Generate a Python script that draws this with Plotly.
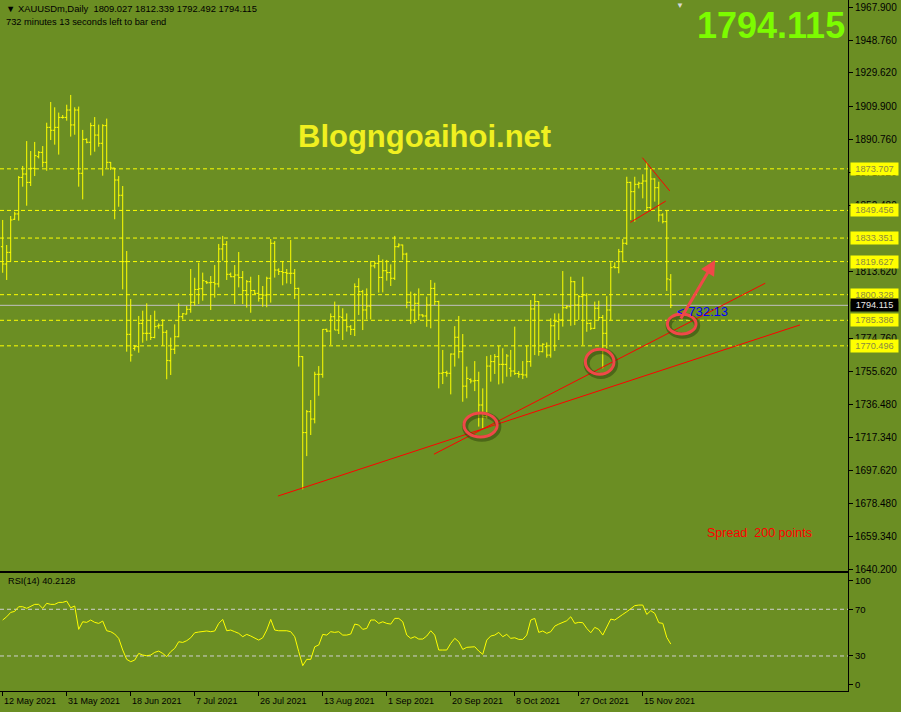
import plotly.graph_objects as go

# ---- data (XAUUSDm, daily bars, broker with Sunday bars) ----
opens = [1828.3, 1818.2, 1825.0, 1844.3, 1847.4, 1868.7, 1870.7, 1865.8, 1874.0, 1880.8,
         1883.3, 1877.5, 1897.9, 1896.2, 1897.9, 1903.7, 1903.7, 1908.0, 1899.3, 1908.0,
         1871.1, 1890.9, 1889.2, 1898.9, 1893.4, 1888.6, 1898.9, 1877.5, 1874.2, 1867.2,
         1858.3, 1819.6, 1777.2, 1769.0, 1770.0, 1783.6, 1777.8, 1777.8, 1775.4, 1782.1,
         1782.5, 1778.4, 1761.8, 1768.5, 1775.8, 1787.5, 1789.0, 1791.8, 1795.9, 1803.4,
         1803.8, 1807.9, 1807.3, 1807.5, 1806.6, 1827.0, 1829.7, 1812.2, 1810.8, 1811.8,
         1810.3, 1802.7, 1807.9, 1802.7, 1801.1, 1798.2, 1800.1, 1809.9, 1830.3, 1814.7,
         1813.8, 1813.2, 1812.8, 1812.8, 1804.0, 1764.2, 1719.9, 1732.1, 1727.8, 1753.9,
         1753.9, 1780.1, 1779.1, 1787.5, 1779.7, 1787.1, 1785.5, 1781.6, 1780.1, 1805.0,
         1802.1, 1791.4, 1793.7, 1817.1, 1818.6, 1810.4, 1814.3, 1813.2, 1809.9, 1828.3,
         1829.3, 1824.0, 1795.9, 1791.4, 1795.3, 1788.5, 1787.9, 1794.3, 1804.0, 1796.3,
         1754.5, 1754.9, 1754.5, 1765.7, 1775.5, 1767.1, 1747.0, 1750.9, 1750.0, 1750.2,
         1736.0, 1729.2, 1758.7, 1761.3, 1764.2, 1759.7, 1759.7, 1757.4, 1755.8, 1754.4,
         1753.9, 1753.5, 1761.3, 1792.0, 1796.3, 1767.1, 1770.0, 1765.1, 1782.2, 1784.6,
         1785.6, 1792.7, 1793.3, 1807.9, 1794.3, 1799.2, 1800.1, 1783.6, 1780.7, 1792.4,
         1787.0, 1777.8, 1791.4, 1816.6, 1816.1, 1825.4, 1830.3, 1865.8, 1860.4, 1864.7,
         1865.3, 1866.6, 1851.1, 1867.8, 1862.7, 1846.8, 1842.9, 1809.027]
highs = [1843.9, 1829.3, 1846.2, 1848.7, 1869.5, 1875.4, 1889.9, 1884.1, 1889.4, 1884.1,
         1887.0, 1900.6, 1912.7, 1909.6, 1906.5, 1905.1, 1911.1, 1916.8, 1909.6, 1910.0,
         1896.4, 1891.5, 1900.6, 1903.9, 1899.5, 1899.7, 1903.0, 1877.7, 1874.2, 1869.5,
         1863.7, 1825.8, 1797.8, 1771.0, 1787.9, 1791.0, 1795.3, 1788.5, 1791.0, 1783.6,
         1786.0, 1779.7, 1775.3, 1783.0, 1795.3, 1789.6, 1793.7, 1815.3, 1810.2, 1819.0,
         1813.2, 1808.5, 1811.2, 1817.6, 1829.9, 1834.6, 1831.6, 1813.2, 1817.6, 1825.2,
         1814.1, 1808.9, 1810.8, 1803.1, 1811.8, 1805.4, 1810.8, 1832.8, 1831.6, 1815.7,
         1820.0, 1815.3, 1832.2, 1815.3, 1804.4, 1764.5, 1733.1, 1738.9, 1755.4, 1758.7,
         1780.3, 1780.5, 1789.4, 1796.3, 1794.3, 1792.4, 1789.4, 1782.6, 1806.9, 1809.9,
         1803.1, 1804.0, 1820.0, 1819.6, 1823.5, 1820.9, 1820.6, 1818.0, 1834.6, 1830.3,
         1829.5, 1824.8, 1802.1, 1801.1, 1804.0, 1788.9, 1799.2, 1808.9, 1807.3, 1796.8,
         1768.1, 1756.0, 1766.1, 1782.0, 1787.9, 1777.4, 1758.4, 1751.5, 1761.6, 1755.4,
         1745.7, 1764.5, 1765.2, 1765.7, 1770.4, 1769.1, 1765.7, 1768.1, 1781.7, 1755.8,
         1761.6, 1770.6, 1797.2, 1800.5, 1796.6, 1772.0, 1772.5, 1786.5, 1789.4, 1789.4,
         1814.1, 1794.3, 1810.8, 1808.3, 1800.1, 1810.8, 1801.1, 1784.2, 1796.3, 1796.8,
         1788.5, 1799.5, 1819.2, 1819.2, 1827.0, 1832.8, 1869.1, 1866.2, 1869.1, 1866.2,
         1870.5, 1877.5, 1873.6, 1868.2, 1866.2, 1847.8, 1849.7, 1812.339]
lows = [1813.1, 1808.9, 1819.6, 1843.9, 1843.5, 1863.3, 1852.2, 1863.7, 1869.5, 1879.8,
        1874.6, 1872.6, 1890.5, 1887.8, 1882.0, 1903.0, 1901.8, 1892.5, 1893.6, 1863.3,
        1855.9, 1888.6, 1881.6, 1883.7, 1886.6, 1869.7, 1874.2, 1873.0, 1844.3, 1851.6,
        1803.4, 1767.1, 1761.3, 1767.7, 1766.5, 1772.3, 1773.5, 1773.9, 1774.9, 1780.5,
        1770.6, 1751.0, 1753.5, 1765.7, 1775.5, 1785.9, 1788.8, 1789.8, 1793.9, 1794.9,
        1796.8, 1806.6, 1791.4, 1798.6, 1804.6, 1820.2, 1808.9, 1810.5, 1794.9, 1804.6,
        1794.9, 1792.8, 1789.8, 1800.7, 1796.3, 1793.3, 1793.0, 1795.7, 1810.3, 1811.8,
        1805.8, 1806.9, 1806.6, 1797.8, 1758.4, 1686.8, 1706.2, 1718.5, 1725.3, 1741.4,
        1751.9, 1778.5, 1771.0, 1779.7, 1777.4, 1773.9, 1778.8, 1776.8, 1776.2, 1788.5,
        1779.7, 1785.9, 1785.9, 1815.7, 1801.5, 1801.7, 1808.5, 1805.4, 1808.9, 1827.9,
        1820.6, 1792.4, 1783.2, 1784.0, 1785.5, 1787.1, 1781.6, 1780.7, 1794.3, 1745.7,
        1748.2, 1752.5, 1742.2, 1758.4, 1763.2, 1737.9, 1739.9, 1748.6, 1744.1, 1723.4,
        1722.4, 1728.2, 1749.6, 1754.1, 1748.0, 1748.6, 1752.5, 1752.5, 1753.5, 1751.9,
        1751.1, 1751.9, 1758.3, 1765.1, 1764.7, 1766.7, 1763.6, 1763.6, 1767.5, 1773.9,
        1781.7, 1792.0, 1782.2, 1782.6, 1785.6, 1771.0, 1778.7, 1779.7, 1780.3, 1785.6,
        1757.4, 1769.0, 1785.6, 1815.7, 1812.8, 1819.2, 1829.3, 1843.9, 1842.9, 1862.3,
        1856.5, 1849.7, 1849.7, 1854.6, 1842.9, 1841.9, 1802.5, 1792.492]
closes = [1818.2, 1825.0, 1843.9, 1847.4, 1868.7, 1870.7, 1865.8, 1874.0, 1881.4, 1883.3,
          1877.5, 1897.9, 1896.2, 1897.9, 1903.7, 1903.7, 1908.0, 1899.3, 1908.0, 1871.1,
          1890.9, 1889.2, 1898.9, 1893.4, 1888.6, 1898.9, 1877.5, 1874.2, 1867.2, 1858.3,
          1819.6, 1777.2, 1765.1, 1770.0, 1783.6, 1777.8, 1777.8, 1775.4, 1781.7, 1782.5,
          1778.4, 1762.0, 1768.5, 1775.8, 1787.5, 1789.2, 1791.8, 1795.9, 1803.4, 1803.8,
          1808.5, 1807.3, 1807.5, 1806.6, 1827.0, 1829.7, 1812.2, 1810.8, 1811.8, 1810.3,
          1802.7, 1807.9, 1802.7, 1801.1, 1798.2, 1800.1, 1809.9, 1830.3, 1814.7, 1813.8,
          1813.2, 1812.8, 1812.8, 1804.0, 1764.2, 1719.9, 1732.1, 1727.8, 1753.9, 1753.9,
          1780.1, 1779.1, 1787.5, 1779.7, 1787.5, 1785.5, 1781.6, 1780.1, 1805.0, 1802.1,
          1791.4, 1793.7, 1817.1, 1818.6, 1810.4, 1814.3, 1813.2, 1809.9, 1828.3, 1829.3,
          1824.0, 1795.9, 1791.4, 1795.3, 1788.5, 1787.9, 1794.3, 1804.0, 1796.3, 1754.5,
          1754.9, 1754.5, 1765.7, 1775.5, 1767.1, 1747.0, 1751.5, 1750.0, 1750.2, 1736.0,
          1729.2, 1758.7, 1761.3, 1764.2, 1759.7, 1759.7, 1764.6, 1755.8, 1754.4, 1753.9,
          1753.5, 1761.3, 1792.0, 1796.3, 1767.1, 1771.4, 1765.1, 1782.2, 1784.6, 1785.6,
          1792.7, 1793.3, 1807.9, 1794.3, 1799.2, 1800.1, 1783.6, 1780.7, 1792.4, 1787.0,
          1777.8, 1791.4, 1816.1, 1816.1, 1825.4, 1830.3, 1865.8, 1860.4, 1864.7, 1865.3,
          1866.6, 1851.1, 1867.8, 1862.7, 1846.8, 1842.9, 1809.5, 1794.115]

rsi = [60.8, 63.6, 67.3, 68.2, 72.2, 72.2, 70.8, 72.8, 74.2, 74.2,
       70.8, 75.1, 74.2, 74.2, 75.9, 75.9, 77.0, 71.3, 72.8, 52.8,
       59.3, 58.8, 60.8, 58.8, 57.9, 59.9, 51.6, 50.8, 48.8, 45.1,
       35.1, 27.1, 25.1, 26.5, 32.2, 30.8, 30.2, 30.8, 33.1, 34.2,
       32.2, 29.4, 33.7, 36.5, 42.2, 41.6, 43.1, 45.6, 49.9, 50.5,
       50.8, 51.4, 50.8, 51.4, 57.9, 61.3, 51.6, 52.2, 50.8, 49.4,
       46.5, 48.5, 47.1, 45.1, 43.6, 45.6, 52.2, 61.3, 52.2, 51.6,
       51.6, 51.6, 50.8, 46.5, 33.7, 21.7, 27.1, 27.1, 37.9, 39.4,
       48.5, 47.9, 50.8, 50.2, 50.8, 47.9, 47.9, 48.8, 57.3, 56.5,
       52.8, 53.6, 60.8, 60.8, 57.9, 59.3, 57.9, 57.3, 62.2, 62.2,
       59.3, 47.9, 45.1, 46.5, 44.5, 44.5, 47.1, 51.6, 47.9, 35.1,
       35.1, 35.1, 40.8, 45.1, 42.2, 35.6, 37.4, 37.9, 37.9, 34.2,
       31.4, 43.6, 47.1, 47.9, 50.2, 46.5, 48.5, 45.1, 45.6, 44.2,
       44.2, 47.9, 60.8, 62.2, 50.2, 51.4, 49.4, 50.8, 55.6, 57.3,
       58.8, 60.2, 63.6, 57.9, 58.8, 58.5, 53.6, 49.9, 54.5, 52.8,
       47.9, 54.5, 61.6, 60.8, 63.6, 65.6, 67.9, 70.8, 73.1, 73.6,
       73.6, 65.6, 68.8, 66.5, 58.5, 57.9, 45.9, 40.2]

date_ticks = [0, 16, 32, 48, 64, 80, 96, 112, 128, 144, 160]
date_labels = ["12 May 2021", "31 May 2021", "18 Jun 2021", "7 Jul 2021", "26 Jul 2021",
               "13 Aug 2021", "1 Sep 2021", "20 Sep 2021", "8 Oct 2021", "27 Oct 2021",
               "15 Nov 2021"]

price_ticks = [1967.90, 1948.76, 1929.62, 1909.90, 1890.76, 1871.62, 1852.48,
               1813.62, 1774.76, 1755.62, 1736.48, 1717.34, 1697.62, 1678.48,
               1659.34, 1640.20]
levels = [1873.707, 1849.456, 1833.351, 1819.627, 1800.328, 1785.386, 1770.496]
bid = 1794.115
rsi_name = "RSI(14) 40.2128"
rsi_levels = [30, 70]

# hand drawn objects on the chart: (bar index, price)
trend_lines = [
    ((68.8, 1682.9), (199.3, 1782.7)),
    ((107.8, 1707.3), (190.6, 1807.0)),
    ((159.9, 1880.2), (166.75, 1860.8)),
    ((156.9, 1842.5), (165.75, 1854.9)),
]
circles = [  # x0, x1, y0, y1
    (115.3, 123.6, 1717.3, 1731.3),
    (145.65, 152.8, 1753.9, 1768.5),
    (166.15, 173.3, 1777.4, 1789.1),
]
arrow_from = (169.3, 1785.6)
arrow_to = (178.1, 1820.6)

# ---- style ----
BG = "#6B8E23"
BAR = "#FFFF00"
RED = "#F04848"
FONT = "Liberation Sans, Arial, sans-serif"
W, H = 901, 712
PLOT_W, PLOT_H = 848, 691


def px(x):
    return x / PLOT_W


def py(y):
    return (PLOT_H - y) / PLOT_H


x = list(range(len(closes)))

fig = go.Figure()
fig.add_trace(go.Ohlc(
    x=x, open=opens, high=highs, low=lows, close=closes,
    increasing=dict(line=dict(color=BAR, width=1)),
    decreasing=dict(line=dict(color=BAR, width=1)),
    tickwidth=0.45, hoverinfo="none", xaxis="x", yaxis="y",
))
fig.add_trace(go.Scatter(
    x=x, y=rsi, mode="lines", line=dict(color=BAR, width=1),
    hoverinfo="skip", xaxis="x2", yaxis="y2",
))

shapes = []
for lvl in levels:
    shapes.append(dict(type="line", xref="paper", yref="y", x0=0, x1=1, y0=lvl, y1=lvl,
                       line=dict(color=BAR, width=1, dash="4px,3px"), layer="below"))
shapes.append(dict(type="line", xref="paper", yref="y", x0=0, x1=1, y0=bid, y1=bid,
                   line=dict(color="#C0C0C0", width=1), layer="below"))
for lvl in rsi_levels:
    shapes.append(dict(type="line", xref="paper", yref="y2", x0=0, x1=1, y0=lvl, y1=lvl,
                       line=dict(color="#D0D0D0", width=1, dash="4px,3px"), layer="below"))
for (a, b) in trend_lines:
    shapes.append(dict(type="line", xref="x", yref="y", x0=a[0], y0=a[1], x1=b[0], y1=b[1],
                       line=dict(color="#FF0000", width=1)))
for (x0, x1, y0, y1) in circles:
    # soft shadow then the ring
    shapes.append(dict(type="circle", xref="x", yref="y", x0=x0 + 0.3, x1=x1 + 0.3,
                       y0=y0 - 1.0, y1=y1 - 1.0,
                       line=dict(color="rgba(40,55,10,0.45)", width=6)))
    shapes.append(dict(type="circle", xref="x", yref="y", x0=x0, x1=x1, y0=y0, y1=y1,
                       line=dict(color=RED, width=3)))

annotations = [
    dict(xref="paper", yref="paper", x=px(4), y=py(9), xanchor="left", yanchor="middle",
         text=f"▼ XAUUSDm,Daily  {opens[-1]:.3f} {highs[-1]:.3f} {lows[-1]:.3f} {closes[-1]:.3f}",
         showarrow=False, font=dict(size=9.4, color="black")),
    dict(xref="paper", yref="paper", x=px(4), y=py(22), xanchor="left", yanchor="middle",
         text="732 minutes 13 seconds left to bar end",
         showarrow=False, font=dict(size=9.3, color="black")),
    dict(xref="paper", yref="paper", x=px(847), y=py(25), xanchor="right", yanchor="middle",
         text=f"<b>{bid:.3f}</b>", showarrow=False,
         font=dict(size=36, color="#7CFC00", family=FONT)),
    dict(xref="paper", yref="paper", x=px(680), y=py(5), xanchor="center", yanchor="middle",
         text="▼", showarrow=False, font=dict(size=8, color="#D8D8D8")),
    dict(xref="paper", yref="paper", x=px(424), y=py(137), xanchor="center", yanchor="middle",
         text="<b>Blogngoaihoi.net</b>", showarrow=False,
         font=dict(size=31, color="#F0F020", family=FONT)),
    dict(xref="paper", yref="paper", x=px(705), y=py(533), xanchor="left", yanchor="middle",
         text="Spread  200 points", showarrow=False, font=dict(size=12.5, color="#FF0000")),
    dict(xref="x", yref="y", x=168.1, y=1790.8, xanchor="left", yanchor="middle",
         text="&lt; 732:13", showarrow=False, font=dict(size=13, color="#0000FF")),
    dict(xref="paper", yref="paper", x=px(6), y=py(581), xanchor="left", yanchor="middle",
         text=rsi_name, showarrow=False, font=dict(size=9.2, color="black")),
    dict(xref="x", yref="y", x=arrow_to[0], y=arrow_to[1], ax=arrow_from[0], ay=arrow_from[1],
         axref="x", ayref="y", text="", showarrow=True, arrowhead=2, arrowsize=1,
         arrowwidth=3, arrowcolor=RED, standoff=0, startstandoff=0),
]
for lvl in levels:
    annotations.append(dict(xref="paper", yref="y", x=px(849.5), y=lvl, xanchor="left",
                            yanchor="middle", text=f"{lvl:.3f}", showarrow=False,
                            bgcolor="#FFFF00", borderpad=1, width=45, height=10,
                            font=dict(size=9.2, color="#8A8A40")))
annotations.append(dict(xref="paper", yref="y", x=px(849.5), y=bid, xanchor="left",
                        yanchor="middle", text=f"{bid:.3f}", showarrow=False,
                        bgcolor="#000000", borderpad=1, width=45, height=10,
                        font=dict(size=9.2, color="#E8E8E8")))
for idx, lab in zip(date_ticks, date_labels):
    annotations.append(dict(xref="x2", yref="paper", x=idx, y=py(701), xanchor="left",
                            yanchor="middle", xshift=-1, text=lab, showarrow=False,
                            font=dict(size=9, color="black")))

axis_common = dict(showgrid=False, zeroline=False, showline=True, linecolor="black",
                   linewidth=1, tickcolor="black")
x_range = [-0.675, 211.3]

fig.update_layout(
    width=W, height=H,
    margin=dict(l=0, r=W - PLOT_W, t=0, b=H - PLOT_H),
    paper_bgcolor=BG, plot_bgcolor=BG,
    showlegend=False,
    font=dict(family=FONT, size=10, color="black"),
    shapes=shapes,
    annotations=annotations,
    xaxis=dict(domain=[0, 1], anchor="y", range=x_range, showticklabels=False, ticks="",
               rangeslider=dict(visible=False), **axis_common),
    yaxis=dict(domain=[py(571), 1], anchor="x", side="right", range=[1639.2, 1972.16],
               tickvals=price_ticks, tickformat=".3f", ticks="outside", ticklen=4,
               mirror=True, tickfont=dict(size=10), **axis_common),
    xaxis2=dict(domain=[0, 1], anchor="y2", range=x_range, tickvals=date_ticks,
                showticklabels=False, ticks="outside", ticklen=4, mirror=True,
                **axis_common),
    yaxis2=dict(domain=[0, py(573)], anchor="x2", side="right", range=[0, 101.07],
                tickvals=[5.7, 30, 70, 94.5], ticktext=["0", "30", "70", "100"],
                ticks="outside", ticklen=4, mirror=True, tickfont=dict(size=9.5),
                **axis_common),
)

# the page has a default 8px body margin; drop it so the chart fills the window
fig.write_html(
    "out.html",
    config={"displayModeBar": False},
    post_script=(
        "document.body.style.margin='0';"
        "document.body.style.overflow='hidden';"
        f"document.body.style.background='{BG}';"
    ),
)
